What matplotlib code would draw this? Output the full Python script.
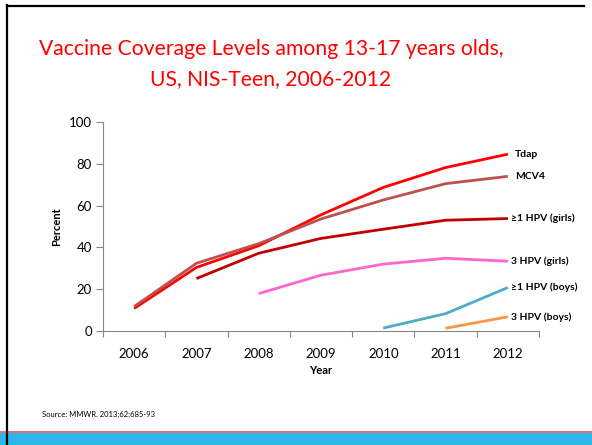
import matplotlib
matplotlib.use("Agg")
import matplotlib.pyplot as plt
from matplotlib.lines import Line2D
from matplotlib.patches import Rectangle

plt.rcParams['font.family'] = ['Lato', 'DejaVu Sans']

years = ["2006", "2007", "2008", "2009", "2010", "2011", "2012"]
tdap = [10.8, 30.4, 40.8, 55.6, 68.7, 78.2, 84.6]
mcv4 = [11.7, 32.4, 41.8, 53.6, 62.7, 70.5, 74.0]
hpv1_girls = [None, 25.1, 37.2, 44.3, 48.7, 53.0, 53.8]
hpv3_girls = [None, None, 17.9, 26.7, 32.0, 34.8, 33.4]
hpv1_boys = [None, None, None, None, 1.4, 8.3, 20.8]
hpv3_boys = [None, None, None, None, None, 1.3, 6.8]

series_names = ["Tdap", "MCV4", "\u22651 HPV (girls)", "3 HPV (girls)",
                "\u22651 HPV (boys)", "3 HPV (boys)"]
series_vals = [tdap, mcv4, hpv1_girls, hpv3_girls, hpv1_boys, hpv3_boys]
colors = ["#FF0000", "#C0504D", "#C00000", "#FF66CC", "#4BACC6", "#F79646"]
label_offsets = [5, 5, 2, 2, 2, 2]

W, H = 592, 445
fig = plt.figure(figsize=(W / 100, H / 100), dpi=100)
fig.patch.set_facecolor("white")

ax = fig.add_axes([103 / W, 1 - 331 / H, 436 / W, 209 / H])

for name, vals, c, off in zip(series_names, series_vals, colors, label_offsets):
    xs = [i for i, v in enumerate(vals) if v is not None]
    ys = [v for v in vals if v is not None]
    ax.plot(xs, ys, color=c, lw=2.0, solid_capstyle="butt")
    ax.annotate(name, (xs[-1], ys[-1]), xytext=(off, 0), textcoords="offset points",
                ha="left", va="center", fontsize=7.5, fontweight="bold", color="black")

ax.set_xlim(-0.5, 6.5)
ax.set_ylim(0, 100)
ax.set_yticks(range(0, 101, 20))
ax.set_xticks(range(len(years)))
ax.set_xticklabels(years)
ax.set_xticks([i - 0.5 for i in range(len(years) + 1)], minor=True)
ax.tick_params(axis="x", which="major", length=0, pad=12, labelsize=9.5, colors="black")
ax.tick_params(axis="x", which="minor", length=4, color="#868686", width=0.8)
ax.tick_params(axis="y", length=5, color="#868686", width=0.8, labelsize=9.5, pad=3)
for s in ["top", "right"]:
    ax.spines[s].set_visible(False)
for s in ["left", "bottom"]:
    ax.spines[s].set_color("#868686")
    ax.spines[s].set_linewidth(0.8)

fig.text(57 / W, 1 - 227 / H, "Percent", rotation=90, ha="center", va="center",
         fontsize=8, fontweight="bold")
fig.text(321 / W, 1 - 370 / H, "Year", ha="center", va="center",
         fontsize=8, fontweight="bold")

fig.text(271 / W, 1 - 49 / H, "Vaccine Coverage Levels among 13-17 years olds,",
         ha="center", va="center", fontsize=15.2, color="#FF0000")
fig.text(271 / W, 1 - 79 / H, "US, NIS-Teen, 2006-2012",
         ha="center", va="center", fontsize=15.2, color="#FF0000")

fig.text(42 / W, 1 - 414 / H, "Source: MMWR. 2013;62;685-93", ha="left", va="center",
         fontsize=5.5, color="black")

# bottom bar
fig.add_artist(Rectangle((0, 0), 1, 12.5 / H, transform=fig.transFigure,
                         facecolor="#2DB6EA", edgecolor="none"))
fig.add_artist(Line2D([0, 1], [13 / H, 13 / H], transform=fig.transFigure,
                      color="#E8505E", lw=1.2))
# slide border
fig.add_artist(Line2D([7 / W, 7 / W], [0, 1 - 5 / H], transform=fig.transFigure,
                      color="black", lw=1.6))
fig.add_artist(Line2D([7 / W, 584 / W], [1 - 5.5 / H, 1 - 5.5 / H], transform=fig.transFigure,
                      color="black", lw=1.6))

fig.savefig("out.png", dpi=100)
